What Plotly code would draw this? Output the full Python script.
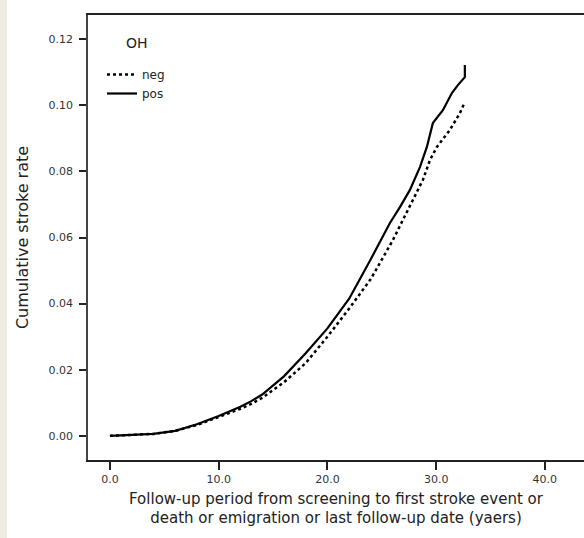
import plotly.graph_objects as go

# Follow-up time (years) and cumulative stroke rate
neg_years = [0, 2, 4, 6, 8, 10, 12, 13, 14, 16, 18, 20, 22, 24, 25.1, 26.02, 26.94, 27.86,
             28.78, 29.43, 30.07, 31.26, 32.18, 32.64]
neg_rate = [0, 0.0002, 0.0006, 0.0015, 0.0033, 0.0057, 0.0082, 0.0097, 0.0115, 0.0162, 0.022,
            0.0300, 0.0385, 0.0475, 0.0541, 0.0592, 0.0653, 0.0713, 0.0774, 0.0834, 0.0874,
            0.0925, 0.0976, 0.1010]

pos_years = [0, 2, 4, 6, 8, 10, 12, 13, 14, 16, 18, 20, 22, 24, 25.75, 26.67, 27.59, 28.51,
             29.15, 29.70, 30.62, 31.45, 32.0, 32.64, 32.64]
pos_rate = [0, 0.0002, 0.0006, 0.0015, 0.0035, 0.006, 0.0088, 0.0105, 0.0125, 0.018, 0.025,
            0.0325, 0.0415, 0.0535, 0.0644, 0.0692, 0.0744, 0.0813, 0.0874, 0.0946, 0.0985,
            0.1037, 0.1061, 0.1085, 0.1122]

x_ticks = [0, 10, 20, 30, 40]
x_tick_labels = ["0.0", "10.0", "20.0", "30.0", "40.0"]
y_ticks = [0, 0.02, 0.04, 0.06, 0.08, 0.10, 0.12]
y_tick_labels = ["0.00", "0.02", "0.04", "0.06", "0.08", "0.10", "0.12"]

FONT = "DejaVu Sans, Liberation Sans, Arial, sans-serif"

fig = go.Figure()
fig.add_trace(go.Scatter(x=neg_years, y=neg_rate, mode="lines", name="neg",
                         line=dict(color="black", width=2.5, dash="3px,3px")))
fig.add_trace(go.Scatter(x=pos_years, y=pos_rate, mode="lines", name="pos",
                         line=dict(color="black", width=2.2)))

W, H = 584, 538
ml, mr, mt, mb = 88, 0, 15, 78
pw, ph = W - ml - mr, H - mt - mb


def px_x(p):
    return (p - ml) / pw


def px_y(p):
    return (H - mb - p) / ph


fig.update_layout(
    width=W, height=H,
    margin=dict(l=ml, r=mr, t=mt, b=mb, pad=0),
    paper_bgcolor="white", plot_bgcolor="white",
    font=dict(family=FONT, color="#222"),
    showlegend=True,
    legend=dict(x=px_x(102), y=px_y(60), xanchor="left", yanchor="top",
                bgcolor="rgba(0,0,0,0)", font=dict(size=12, color="#222"),
                tracegroupgap=0),
    xaxis=dict(range=[-2.02, 43.6], tickvals=x_ticks, ticktext=x_tick_labels,
               showgrid=False, zeroline=False, showline=True, linecolor="#222", linewidth=1.8,
               mirror=True, ticks="outside", ticklen=8, tickwidth=1.5, tickcolor="#222",
               tickfont=dict(size=11, color="#333"),
               title=dict(text="Follow-up period from screening to first stroke event or<br>"
                               "death or emigration or last follow-up date (yaers)",
                          font=dict(size=15, color="#222"), standoff=8)),
    yaxis=dict(range=[-0.0073, 0.1273], tickvals=y_ticks, ticktext=y_tick_labels,
               showgrid=False, zeroline=False, showline=True, linecolor="#444", linewidth=1.5,
               ticks="outside", ticklen=7, tickwidth=1.5, tickcolor="#222",
               ticklabelstandoff=4,
               tickfont=dict(size=11, color="#333"),
               title=dict(text="Cumulative stroke rate", font=dict(size=16, color="#222"),
                          standoff=16)),
    annotations=[dict(text="OH", xref="paper", yref="paper", x=px_x(137), y=px_y(43),
                      xanchor="center", yanchor="middle", showarrow=False,
                      font=dict(size=14, color="#222"))],
    shapes=[dict(type="rect", xref="paper", yref="paper",
                 x0=-ml / pw, x1=-(ml - 7) / pw, y0=-mb / ph, y1=1 + mt / ph,
                 fillcolor="#efece2", line=dict(width=0), layer="below")],
)

fig.write_html("out.html", config={"displayModeBar": False},
               post_script="document.body.style.margin='0px';")
